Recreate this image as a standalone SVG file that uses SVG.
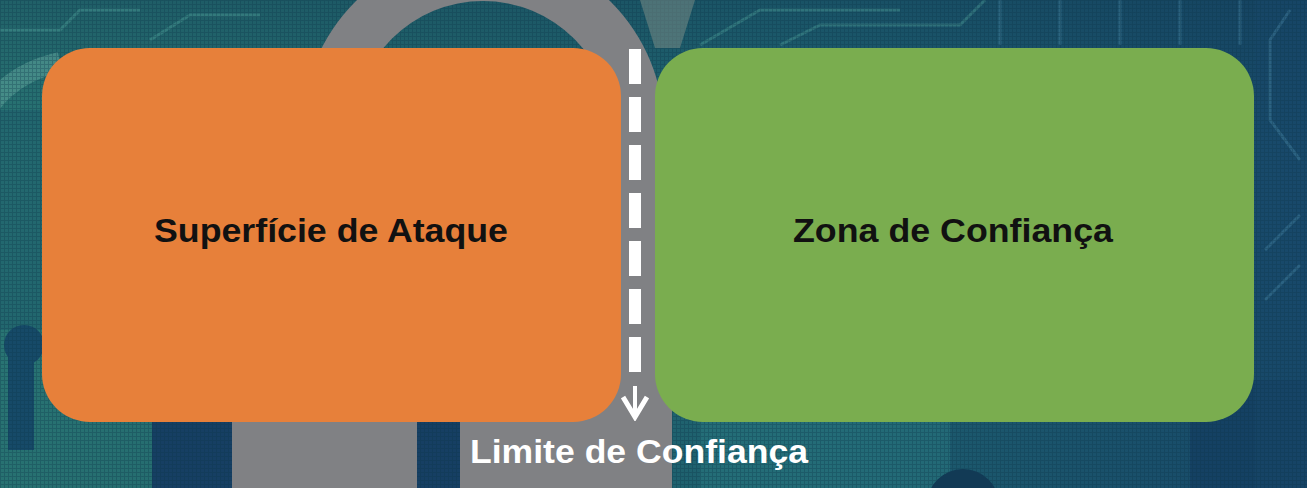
<svg xmlns="http://www.w3.org/2000/svg" width="1307" height="488" viewBox="0 0 1307 488">
  <style>
    .node-text { font-family: "Liberation Sans", Arial, sans-serif; font-weight: bold; font-size: 34px; fill: #111111; text-anchor: middle; }
    .label-text { font-family: "Liberation Sans", Arial, sans-serif; font-weight: bold; font-size: 34px; fill: #ffffff; text-anchor: middle; }
    .grey { fill: #808184; }
    .navy { fill: #163f63; }
    .circuit { fill: none; stroke: #4fa39a; stroke-width: 3; opacity: 0.4; }
    .circuit-b { fill: none; stroke: #5a9dbb; stroke-width: 3; opacity: 0.3; }
  </style>
  <defs>
    <linearGradient id="bg" x1="0" y1="0" x2="1" y2="0">
      <stop offset="0" stop-color="#2a7875"/>
      <stop offset="0.35" stop-color="#236a70"/>
      <stop offset="0.6" stop-color="#1f6472"/>
      <stop offset="1" stop-color="#184a6b"/>
    </linearGradient>
    <linearGradient id="bgv" x1="0" y1="0" x2="0" y2="1">
      <stop offset="0" stop-color="#0f3550" stop-opacity="0.35"/>
      <stop offset="0.3" stop-color="#0f3550" stop-opacity="0"/>
      <stop offset="1" stop-color="#0f3550" stop-opacity="0.1"/>
    </linearGradient>
    <pattern id="mesh" width="4" height="4" patternUnits="userSpaceOnUse">
      <path d="M0 0.5H4M0.5 0V4" stroke="#0b3346" stroke-width="1" opacity="0.3"/>
    </pattern>
    <marker id="arrowhead" viewBox="0 0 26 28" refX="23" refY="14" markerWidth="26" markerHeight="28" markerUnits="userSpaceOnUse" orient="auto">
      <polyline points="2,2 22,14 2,26" fill="none" stroke="#ffffff" stroke-width="5" stroke-linejoin="miter"/>
    </marker>
  </defs>

  <g id="background">
    <rect x="0" y="0" width="1307" height="488" fill="url(#bg)"/>
    <rect x="0" y="0" width="1307" height="488" fill="url(#bgv)"/>
    <path d="M-10 105 Q 15 72 60 62" fill="none" stroke="#6bb0a4" stroke-width="20" opacity="0.45"/>
    <rect x="0" y="110" width="45" height="220" fill="#1c5a6a" opacity="0.5"/>
    <circle cx="24" cy="345" r="20" fill="#164a68"/>
    <rect x="8" y="345" width="26" height="105" fill="#164a68"/>
    <rect x="152" y="415" width="80" height="73" class="navy"/>
    <rect x="417" y="415" width="43" height="73" class="navy"/>
    <rect x="700" y="420" width="250" height="68" fill="#2a7a80" opacity="0.5"/>
    <rect x="1190" y="380" width="117" height="108" fill="#143f62" opacity="0.8"/>
    <rect x="1255" y="0" width="52" height="488" fill="#17486a" opacity="0.5"/>
    <polyline class="circuit" points="0,30 60,30 80,10 140,10"/>
    <polyline class="circuit" points="150,40 190,15 260,15"/>
    <polyline class="circuit" points="700,45 760,10 900,10"/>
    <polyline class="circuit" points="780,45 820,25 960,25 985,0"/>
    <polyline class="circuit-b" points="1000,0 1000,45"/>
    <polyline class="circuit-b" points="1060,0 1060,45"/>
    <polyline class="circuit-b" points="1120,0 1120,45"/>
    <polyline class="circuit-b" points="1180,0 1180,45"/>
    <polyline class="circuit-b" points="1240,0 1240,45"/>
    <polyline class="circuit-b" points="1290,10 1270,40 1270,120 1300,160"/>
    <polyline class="circuit-b" points="1265,250 1300,215"/>
    <polyline class="circuit-b" points="1265,300 1300,265"/>
    <rect x="0" y="0" width="1307" height="488" fill="url(#mesh)"/>
    <path class="grey" fill-rule="evenodd" d="M302 130 A181 181 0 0 1 664 130 L664 200 L302 200 Z M354 130 A129 129 0 0 1 612 130 L612 200 L354 200 Z"/>
    <path d="M640 0 L695 0 L680 48 L655 48 Z" fill="#7f8f88" opacity="0.5"/>
    <rect x="600" y="100" width="72" height="388" class="grey"/>
    <rect x="460" y="410" width="212" height="78" class="grey"/>
    <rect x="232" y="410" width="185" height="78" class="grey"/>
    <circle cx="963" cy="505" r="36" fill="#123a55"/>
  </g>

  <g id="nodes">
    <g id="attack-surface">
      <rect x="42" y="48" width="579" height="374" rx="48" ry="48" fill="#e7803a"/>
      <text class="node-text" x="331" y="242" textLength="354" lengthAdjust="spacingAndGlyphs">Superfície de Ataque</text>
    </g>
    <g id="trust-zone">
      <rect x="655" y="48" width="599" height="374" rx="48" ry="48" fill="#7aad4f"/>
      <text class="node-text" x="953" y="242" textLength="320" lengthAdjust="spacingAndGlyphs">Zona de Confiança</text>
    </g>
  </g>

  <g id="connectors">
    <g id="trust-boundary">
      <line x1="635" y1="49" x2="635" y2="372" stroke="#ffffff" stroke-width="12" stroke-dasharray="35 13"/>
      <line x1="635" y1="386" x2="635" y2="418" stroke="#ffffff" stroke-width="4" marker-end="url(#arrowhead)"/>
      <text class="label-text" x="639" y="463" textLength="338" lengthAdjust="spacingAndGlyphs">Limite de Confiança</text>
    </g>
  </g>
</svg>
